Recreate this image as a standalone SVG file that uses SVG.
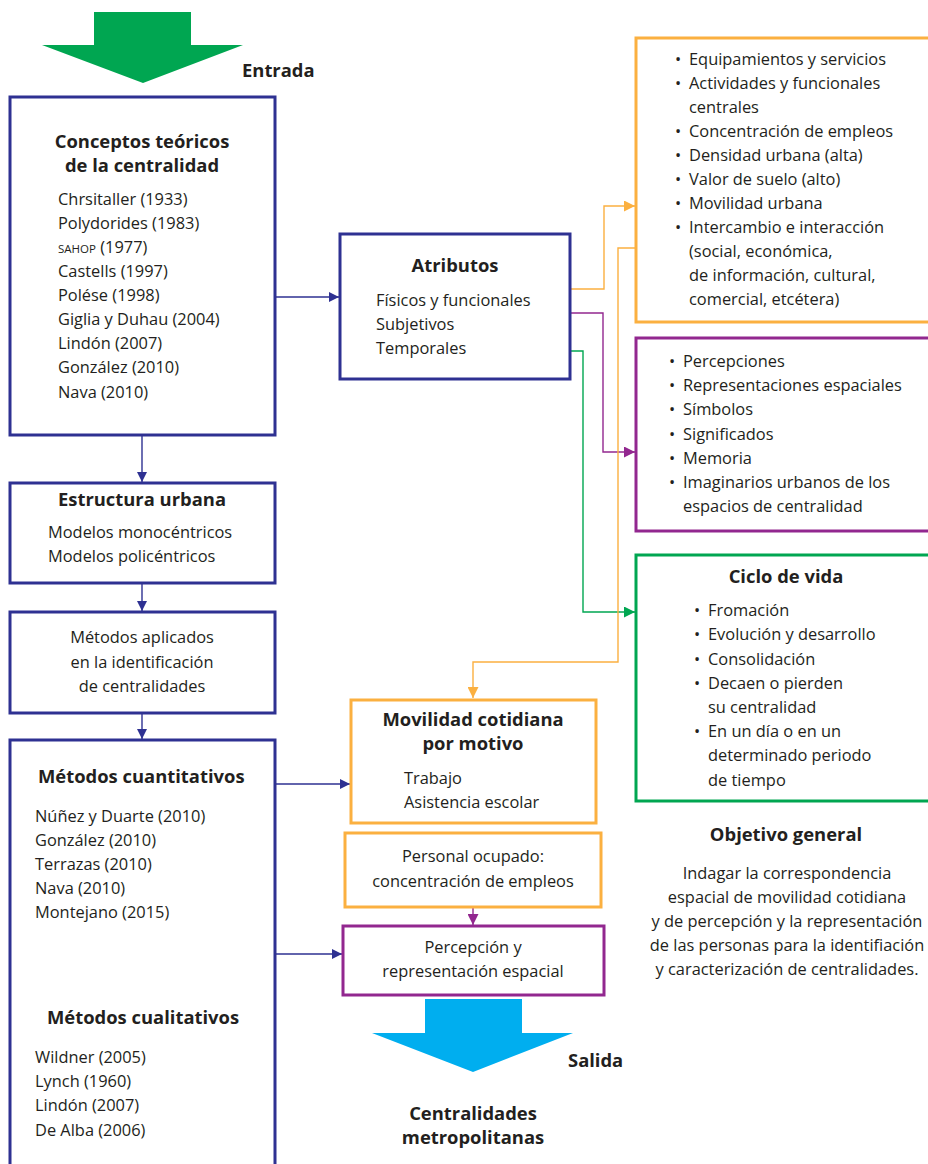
<svg xmlns="http://www.w3.org/2000/svg" width="928" height="1164" viewBox="0 0 928 1164">
  <defs>
    <style>
      text { font-family: "Open Sans", "Liberation Sans", sans-serif; fill: #231f20; font-size: 16.4px; }
      .b { font-weight: bold; font-size: 18.4px; }
      .c { text-anchor: middle; }
      .box { fill: #ffffff; stroke-width: 3; }
      .blue { stroke: #2e3192; }
      .orange { stroke: #fbb040; }
      .purple { stroke: #92278f; }
      .green { stroke: #00a651; }
      .link { fill: none; stroke-width: 1.4; }
    </style>
    <marker id="ah-blue" viewBox="0 0 10 10" refX="10" refY="5" markerWidth="10" markerHeight="10" markerUnits="userSpaceOnUse" orient="auto">
      <path d="M0,0 L10,5 L0,10 Z" fill="#2e3192"/>
    </marker>
    <marker id="ah-orange" viewBox="0 0 10 10" refX="10" refY="5" markerWidth="11" markerHeight="11" markerUnits="userSpaceOnUse" orient="auto">
      <path d="M0,0 L10,5 L0,10 Z" fill="#fbb040"/>
    </marker>
    <marker id="ah-purple" viewBox="0 0 10 10" refX="10" refY="5" markerWidth="11" markerHeight="11" markerUnits="userSpaceOnUse" orient="auto">
      <path d="M0,0 L10,5 L0,10 Z" fill="#92278f"/>
    </marker>
    <marker id="ah-green" viewBox="0 0 10 10" refX="10" refY="5" markerWidth="11" markerHeight="11" markerUnits="userSpaceOnUse" orient="auto">
      <path d="M0,0 L10,5 L0,10 Z" fill="#00a651"/>
    </marker>
  </defs>

  <rect width="928" height="1164" fill="#ffffff"/>

  <!-- Input arrow -->
  <g id="entrada">
    <polygon points="94,12 191,12 191,45 243,45 143,83 42,45 94,45" fill="#00a651"/>
    <text x="242" y="77" class="b">Entrada</text>
  </g>

  <!-- Connectors -->
  <g id="connectors">
    <path class="link blue" d="M142,435 V482" marker-end="url(#ah-blue)"/>
    <path class="link blue" d="M142,583 V611" marker-end="url(#ah-blue)"/>
    <path class="link blue" d="M142,713 V739" marker-end="url(#ah-blue)"/>
    <path class="link blue" d="M275,297 H339" marker-end="url(#ah-blue)"/>
    <path class="link blue" d="M275,784 H350" marker-end="url(#ah-blue)"/>
    <path class="link blue" d="M275,954 H342" marker-end="url(#ah-blue)"/>
    <path class="link orange" d="M570,289 H604 V206 H635" marker-end="url(#ah-orange)"/>
    <path class="link purple" d="M570,313 H603 V452 H635" marker-end="url(#ah-purple)"/>
    <path class="link green" d="M570,351 H583 V612 H635" marker-end="url(#ah-green)"/>
    <path class="link orange" d="M636,248 H618 V662 H473 V698" marker-end="url(#ah-orange)"/>
    <path class="link purple" d="M473,907 V925" marker-end="url(#ah-purple)"/>
  </g>

  <!-- Theoretical concepts -->
  <g id="conceptos">
    <rect class="box blue" x="10" y="97" width="265" height="338"/>
    <text x="142" y="148" class="b c">Conceptos teóricos</text>
    <text x="142" y="172" class="b c">de la centralidad</text>
    <text x="58" y="205">Chrsitaller (1933)</text>
    <text x="58" y="229">Polydorides (1983)</text>
    <text x="58" y="253"><tspan font-size="11.5">SAHOP</tspan> (1977)</text>
    <text x="58" y="277">Castells (1997)</text>
    <text x="58" y="301">Polése (1998)</text>
    <text x="58" y="325">Giglia y Duhau (2004)</text>
    <text x="58" y="349">Lindón (2007)</text>
    <text x="58" y="373">González (2010)</text>
    <text x="58" y="398">Nava (2010)</text>
  </g>

  <g id="estructura">
    <rect class="box blue" x="10" y="483" width="265" height="100"/>
    <text x="142" y="506" class="b c">Estructura urbana</text>
    <text x="48" y="538">Modelos monocéntricos</text>
    <text x="48" y="562">Modelos policéntricos</text>
  </g>

  <g id="metodos-aplicados">
    <rect class="box blue" x="10" y="612" width="265" height="101"/>
    <text x="142" y="643" class="c">Métodos aplicados</text>
    <text x="142" y="668" class="c">en la identificación</text>
    <text x="142" y="692" class="c">de centralidades</text>
  </g>

  <g id="metodos">
    <path class="box blue" d="M10,1170 V740 H275 V1170"/>
    <text x="38" y="783" class="b">Métodos cuantitativos</text>
    <text x="35" y="822">Núñez y Duarte (2010)</text>
    <text x="35" y="846">González (2010)</text>
    <text x="35" y="870">Terrazas (2010)</text>
    <text x="35" y="894">Nava (2010)</text>
    <text x="35" y="918">Montejano (2015)</text>
    <text x="47" y="1024" class="b">Métodos cualitativos</text>
    <text x="35" y="1063">Wildner (2005)</text>
    <text x="35" y="1087">Lynch (1960)</text>
    <text x="35" y="1111">Lindón (2007)</text>
    <text x="35" y="1136">De Alba (2006)</text>
  </g>

  <g id="atributos">
    <rect class="box blue" x="340" y="234" width="230" height="145"/>
    <text x="455" y="272" class="b c">Atributos</text>
    <text x="376" y="306">Físicos y funcionales</text>
    <text x="376" y="330">Subjetivos</text>
    <text x="376" y="354">Temporales</text>
  </g>

  <g id="fisicos">
    <rect class="box orange" x="636" y="38" width="300" height="284"/>
    <text x="675" y="65">•</text><text x="689" y="65">Equipamientos y servicios</text>
    <text x="675" y="89">•</text><text x="689" y="89">Actividades y funcionales</text>
    <text x="689" y="113">centrales</text>
    <text x="675" y="137">•</text><text x="689" y="137">Concentración de empleos</text>
    <text x="675" y="161">•</text><text x="689" y="161">Densidad urbana (alta)</text>
    <text x="675" y="185">•</text><text x="689" y="185">Valor de suelo (alto)</text>
    <text x="675" y="209">•</text><text x="689" y="209">Movilidad urbana</text>
    <text x="675" y="233">•</text><text x="689" y="233">Intercambio e interacción</text>
    <text x="689" y="257">(social, económica,</text>
    <text x="689" y="281">de información, cultural,</text>
    <text x="689" y="305">comercial, etcétera)</text>
  </g>

  <g id="subjetivos">
    <rect class="box purple" x="636" y="338" width="300" height="193"/>
    <text x="669" y="367">•</text><text x="683" y="367">Percepciones</text>
    <text x="669" y="391">•</text><text x="683" y="391">Representaciones espaciales</text>
    <text x="669" y="415">•</text><text x="683" y="415">Símbolos</text>
    <text x="669" y="440">•</text><text x="683" y="440">Significados</text>
    <text x="669" y="464">•</text><text x="683" y="464">Memoria</text>
    <text x="669" y="488">•</text><text x="683" y="488">Imaginarios urbanos de los</text>
    <text x="683" y="512">espacios de centralidad</text>
  </g>

  <g id="ciclo">
    <rect class="box green" x="636" y="555" width="300" height="246"/>
    <text x="786" y="583" class="b c">Ciclo de vida</text>
    <text x="694" y="616">•</text><text x="708" y="616">Fromación</text>
    <text x="694" y="640">•</text><text x="708" y="640">Evolución y desarrollo</text>
    <text x="694" y="665">•</text><text x="708" y="665">Consolidación</text>
    <text x="694" y="689">•</text><text x="708" y="689">Decaen o pierden</text>
    <text x="708" y="713">su centralidad</text>
    <text x="694" y="737">•</text><text x="708" y="737">En un día o en un</text>
    <text x="708" y="761">determinado periodo</text>
    <text x="708" y="786">de tiempo</text>
  </g>

  <g id="objetivo">
    <text x="786" y="841" class="b c">Objetivo general</text>
    <text x="787" y="879" class="c">Indagar la correspondencia</text>
    <text x="787" y="903" class="c">espacial de movilidad cotidiana</text>
    <text x="787" y="927" class="c">y de percepción y la representación</text>
    <text x="787" y="951" class="c">de las personas para la identifiación</text>
    <text x="787" y="975" class="c">y caracterización de centralidades.</text>
  </g>

  <g id="movilidad">
    <rect class="box orange" x="351" y="700" width="245" height="123"/>
    <text x="473" y="726" class="b c">Movilidad cotidiana</text>
    <text x="473" y="750" class="b c">por motivo</text>
    <text x="404" y="784">Trabajo</text>
    <text x="404" y="808">Asistencia escolar</text>
  </g>

  <g id="personal">
    <rect class="box orange" x="345" y="833" width="256" height="74"/>
    <text x="473" y="862" class="c">Personal ocupado:</text>
    <text x="473" y="887" class="c">concentración de empleos</text>
  </g>

  <g id="percepcion">
    <rect class="box purple" x="343" y="926" width="261" height="69"/>
    <text x="473" y="953" class="c">Percepción y</text>
    <text x="473" y="977" class="c">representación espacial</text>
  </g>

  <!-- Output arrow -->
  <g id="salida">
    <polygon points="425,999 522,999 522,1033 573,1033 473,1072 372,1033 425,1033" fill="#00aeef"/>
    <text x="568" y="1067" class="b">Salida</text>
    <text x="473" y="1120" class="b c">Centralidades</text>
    <text x="473" y="1144" class="b c">metropolitanas</text>
  </g>
</svg>
